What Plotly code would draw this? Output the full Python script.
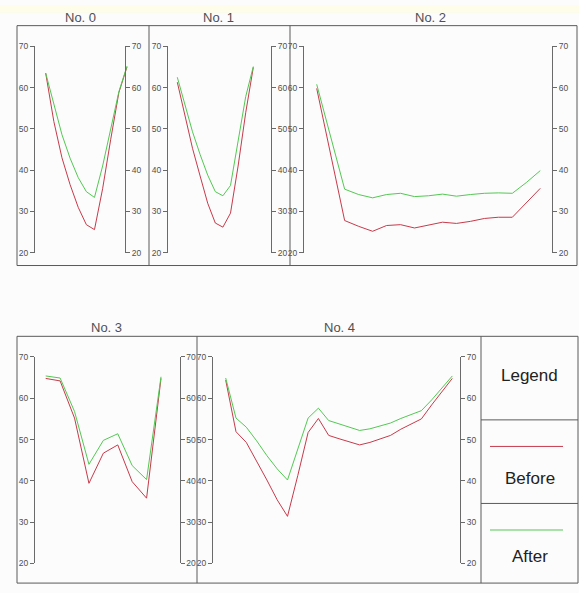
import plotly.graph_objects as go

W, H = 579, 593

# ---------------- data ----------------
titles = ["No. 0", "No. 1", "No. 2", "No. 3", "No. 4"]
series_names = ["Before", "After"]
y_ticks = [20, 30, 40, 50, 60, 70]

p0_before = [63.5, 51.8, 43.0, 36.5, 31.0, 26.8, 25.6, 35.5, 47.5, 58.8, 65.0]
p0_after = [63.5, 56.0, 48.6, 42.9, 38.2, 34.8, 33.4, 41.0, 50.2, 59.0, 65.2]

p1_before = [61.3, 52.9, 45.3, 38.6, 32.0, 27.2, 26.2, 29.6, 41.0, 53.9, 64.9]
p1_after = [62.5, 55.8, 49.3, 43.8, 38.8, 34.8, 33.8, 36.3, 46.7, 57.8, 65.1]

p2_before = [59.8, 44.0, 27.8, 26.4, 25.2, 26.6, 26.8, 26.0, 26.7, 27.4, 27.1,
             27.6, 28.3, 28.6, 28.6, 32.0, 35.6]
p2_after = [60.8, 48.3, 35.4, 34.1, 33.3, 34.1, 34.4, 33.6, 33.8, 34.2, 33.7,
            34.1, 34.4, 34.5, 34.4, 37.0, 39.9]

p3_before = [64.8, 64.2, 55.2, 39.4, 46.7, 48.7, 39.8, 35.8, 64.8]
p3_after = [65.4, 64.9, 56.8, 44.0, 49.8, 51.4, 43.7, 40.3, 65.2]

p4_before = [64.4, 51.9, 49.3, 44.9, 40.2, 35.4, 31.4, 41.3, 51.7, 55.1, 51.0,
             50.2, 49.4, 48.7, 49.3, 50.1, 51.0, 52.5, 53.7, 55.0, 58.4, 61.6, 64.8]
p4_after = [64.9, 55.2, 53.0, 49.7, 46.1, 42.9, 40.2, 47.7, 55.2, 57.6, 54.6,
            53.8, 53.0, 52.2, 52.6, 53.3, 54.0, 55.1, 56.0, 57.0, 59.6, 62.4, 65.4]

before_series = [p0_before, p1_before, p2_before, p3_before, p4_before]
after_series = [p0_after, p1_after, p2_after, p3_after, p4_after]

# ---------------- layout (pixel positions) ----------------
panels = [
    dict(lax=34, rax=125, s=45.7, e=127.0, row=0, tx=80, ty=13),
    dict(lax=167, rax=271, s=177.3, e=253.3, row=0, tx=218, ty=13),
    dict(lax=303, rax=552, s=316.7, e=540.3, row=0, tx=430, ty=13),
    dict(lax=34, rax=179.5, s=45.7, e=161.0, row=1, tx=106, ty=328),
    dict(lax=212, rax=460, s=225.7, e=452.3, row=1, tx=339, ty=328),
]
row_y = [(42, 252), (358, 568)]  # pixel y of 70 and 20

RED = "#c63a4a"
GREEN = "#52c852"
AX = "#6a6a6a"
FRAME = "#5a5a5a"
TXT = "#505050"
FONT = "Liberation Sans Narrow, Liberation Sans, Arial, sans-serif"


def px(x):
    return x / W


def py(y):
    return 1 - y / H


fig = go.Figure()
layout = {}

for i, p in enumerate(panels):
    n = len(before_series[i])
    d = (p["e"] - p["s"]) / (n - 1)
    xa = f"x{i + 1}" if i else "x"
    yl_i = 2 * i + 1
    yr_i = 2 * i + 2
    yl = f"y{yl_i}" if yl_i > 1 else "y"
    y_top, y_bot = row_y[p["row"]]

    layout[f"xaxis{i + 1}" if i else "xaxis"] = dict(
        domain=[px(p["s"] - 0.6 * d), px(p["e"] + 0.6 * d)],
        range=[-0.6, n - 1 + 0.6],
        visible=False, anchor=yl,
    )
    common = dict(
        range=[20, 70], domain=[py(y_bot), py(y_top)],
        tickvals=y_ticks, ticks="outside", ticklen=4, tickwidth=1,
        tickcolor=AX, showline=True, linecolor=AX, linewidth=1,
        showgrid=False, zeroline=False, ticklabelstandoff=0,
        tickfont=dict(family=FONT, size=8.5, color=TXT),
        anchor="free", fixedrange=True,
    )
    layout[f"yaxis{yl_i}" if yl_i > 1 else "yaxis"] = dict(
        common, side="left", position=px(p["lax"]))
    layout[f"yaxis{yr_i}"] = dict(
        common, side="right", position=px(p["rax"]), overlaying=yl)

    xs = list(range(n))
    fig.add_trace(go.Scatter(x=xs, y=before_series[i], mode="lines",
                             line=dict(color=RED, width=1), xaxis=xa, yaxis=yl,
                             name=series_names[0], showlegend=False))
    fig.add_trace(go.Scatter(x=xs, y=after_series[i], mode="lines",
                             line=dict(color=GREEN, width=1), xaxis=xa, yaxis=yl,
                             name=series_names[1], showlegend=False))
    fig.add_trace(go.Scatter(x=[], y=[], xaxis=xa, yaxis=f"y{yr_i}",
                             showlegend=False, hoverinfo="skip"))

shapes = []


def rect(x0, y0, x1, y1):
    shapes.append(dict(type="rect", xref="paper", yref="paper",
                       x0=px(x0), x1=px(x1), y0=py(y1), y1=py(y0),
                       line=dict(color=FRAME, width=1)))


def line(x0, y0, x1, y1, color=FRAME, width=1):
    shapes.append(dict(type="line", xref="paper", yref="paper",
                       x0=px(x0), x1=px(x1), y0=py(y0), y1=py(y1),
                       line=dict(color=color, width=width)))


shapes.append(dict(type="rect", xref="paper", yref="paper", x0=0, x1=1,
                   y0=py(8), y1=1, line=dict(width=0), fillcolor="#fdfde9",
                   layer="below"))
rect(17, 21, 577, 265)
line(149, 21, 149, 265)
line(290, 21, 290, 265)
rect(17, 337, 578, 588)
line(197, 337, 197, 588)
line(481, 337, 481, 588)
line(481, 422, 578, 422)
line(481, 507, 578, 507)
line(490, 449, 563, 449, color=RED)
line(490, 534, 563, 534, color=GREEN)

annotations = []
for i, p in enumerate(panels):
    annotations.append(dict(text=titles[i], x=px(p["tx"]), y=py(p["ty"]),
                            xref="paper", yref="paper", showarrow=False,
                            xanchor="center", yanchor="middle",
                            font=dict(family=FONT, size=13, color=TXT)))
for txt, yy in [("Legend", 377), (series_names[0], 482), (series_names[1], 561)]:
    annotations.append(dict(text=txt, x=px(529.5), y=py(yy), xref="paper",
                            yref="paper", showarrow=False, xanchor="center",
                            yanchor="middle",
                            font=dict(family=FONT, size=17, color="#222222")))

fig.update_layout(
    width=W, height=H, margin=dict(l=0, r=0, t=0, b=0),
    paper_bgcolor="#fcfcfc", plot_bgcolor="rgba(0,0,0,0)",
    showlegend=False, shapes=shapes, annotations=annotations,
    **layout,
)

fig.write_html("out.html", config={"displayModeBar": False},
               post_script="document.body.style.margin='0';"
                           "document.body.style.background='#fcfcfc';")
